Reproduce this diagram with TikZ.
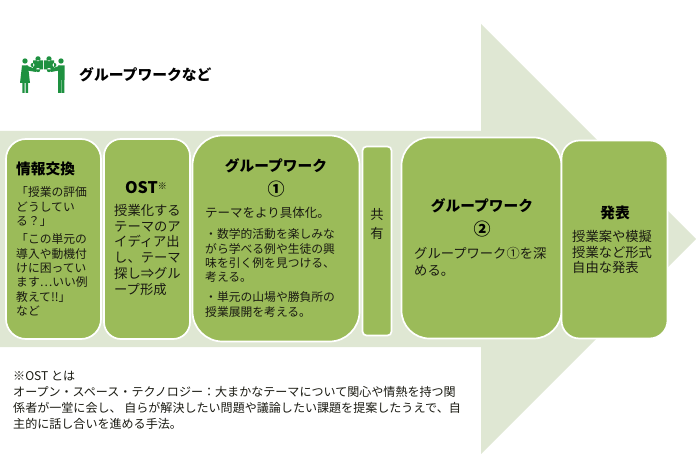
\documentclass[tikz,border=0pt]{standalone}
\usepackage{fontspec}
\setmainfont{Noto Sans CJK JP}
\definecolor{paleband}{HTML}{DFE7D3}
\definecolor{leaf}{HTML}{9BBB59}
\definecolor{figure}{HTML}{1E9140}
\definecolor{ink}{HTML}{1A1A12}
\tikzset{
  x=1pt,y=-1pt,
  panel/.style={draw=white,line width=1.7pt,fill=leaf},
  bodytext/.style={anchor=north west,inner sep=0pt,align=left,text=ink,font=\fontsize{11.8}{14.4}\selectfont},
  largetext/.style={bodytext,font=\fontsize{13.3}{15.8}\selectfont},
  headtext/.style={anchor=center,inner sep=0pt,align=center,text=black,font=\fontsize{14.7}{24}\selectfont\bfseries},
  notetext/.style={anchor=north west,inner sep=0pt,align=left,text=ink,font=\fontsize{12.05}{16.3}\selectfont}
}
\newcommand{\bignum}[1]{{\fontsize{17}{24}\selectfont #1}}
\begin{document}
\begin{tikzpicture}
\useasboundingbox (0,0) rectangle (696,454);
% large background arrow
\fill[paleband] (0,131) -- (481,131) -- (481,24) -- (696,239) -- (481,454) -- (481,347) -- (0,347) -- cycle;
% process panels
\node[panel,rounded corners=20pt,minimum width=95pt,minimum height=200pt] (info) at (53.5,239) {};
\node[panel,rounded corners=17pt,minimum width=86pt,minimum height=200pt] (ost) at (147,239) {};
\node[panel,rounded corners=30pt,minimum width=167pt,minimum height=206pt] (groupa) at (276,238.5) {};
\node[panel,rounded corners=4pt,minimum width=29pt,minimum height=189pt] (share) at (377,241) {};
\node[panel,rounded corners=28pt,minimum width=160pt,minimum height=201pt] (groupb) at (481.5,238) {};
\node[panel,rounded corners=18pt,minimum width=106pt,minimum height=198pt] (talk) at (614.5,239.5) {};
% panel text
\node[headtext,anchor=west] (infohead) at (16,169) {情報交換};
\node[bodytext] (infobody) at (16,186.5) {「授業の評価\\どうしてい\\る？」};
\node[bodytext] (infobodyb) at (16,233.5) {「この単元の\\導入や動機付\\けに困ってい\\ます…いい例\\教えて!!」\\など};
\node[headtext,font=\fontsize{16}{24}\selectfont\bfseries] (osthead) at (146,188) {OST\raisebox{4pt}{\fontsize{9}{9}\selectfont\mdseries ※}};
\node[largetext] (ostbody) at (114,204) {授業化する\\テーマのア\\イディア出\\し、テーマ\\探し⇒グル\\ープ形成};
\node[headtext] (groupahead) at (276,178) {グループワーク\\\bignum{①}};
\node[bodytext,font=\fontsize{12.5}{15}\selectfont] (groupabody) at (205,207) {テーマをより具体化。};
\node[bodytext] (groupabodyb) at (205,228.5) {・数学的活動を楽しみな\\がら学べる例や生徒の興\\味を引く例を見つける、\\考える。};
\node[bodytext,font=\fontsize{11.8}{15}\selectfont] (groupabodyc) at (205,291) {・単元の山場や勝負所の\\授業展開を考える。};
\node[largetext,align=center,anchor=center,font=\fontsize{13.3}{18}\selectfont] (sharetext) at (377,224) {共\\有};
\node[headtext] (groupbhead) at (482,218) {グループワーク\\\bignum{②}};
\node[largetext,font=\fontsize{13.3}{17}\selectfont] (groupbbody) at (414,247) {グループワーク①を深\\める。};
\node[headtext] (talkhead) at (615,213) {発表};
\node[largetext] (talkbody) at (572,230) {授業案や模擬\\授業など形式\\自由な発表};
% footnote
\node[notetext] (note) at (13,370.5) {※OST とは\\オープン・スペース・テクノロジー：大まかなテーマについて関心や情熱を持つ関\\係者が一堂に会し、 自らが解決したい問題や議論したい課題を提案したうえで、自\\主的に話し合いを進める手法。};
% heading beside the figure icon
\node[anchor=west,inner sep=0pt,text=black,font=\fontsize{14.8}{16}\selectfont\bfseries] (title) at (79,75) {グループワークなど};
% left figure
\fill[figure] (25,61) circle (2.7);
\fill[figure] (22,65.5) -- (28,65.5) -- (30,83) -- (20,83) -- cycle;
\fill[figure] (22.3,83) rectangle (24.6,93) (25.6,83) rectangle (28,93);
\fill[figure] (26,65.5) -- (36,69) -- (36,72) -- (27,70.5) -- cycle;
% right figure
\fill[figure] (61,61) circle (2.7);
\fill[figure] (58,65.5) rectangle (64.5,80) (58.2,80) rectangle (61,93) (61.6,80) rectangle (64.4,93);
\fill[figure] (60,65.5) -- (51,69) -- (51,72) -- (59,70.5) -- cycle;
% puzzle pieces held between the figures
\fill[figure] (33,60.5) rectangle (43,69.5) (38,58.8) circle (2.6) (32.6,65) circle (2) (38,70) circle (2.2);
\fill[figure] (44,60.5) rectangle (54,69.5) (49,58.8) circle (2.6) (54.4,65) circle (2) (49,70) circle (2.2);
\end{tikzpicture}
\end{document}
